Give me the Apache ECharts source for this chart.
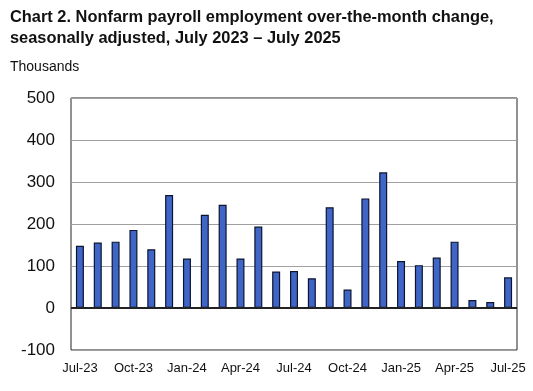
<!DOCTYPE html>
<html><head><meta charset="utf-8">
<script src="https://cdn.jsdelivr.net/npm/echarts@6/dist/echarts.min.js"></script>
<style>html,body{margin:0;padding:0;background:#fff}#c{width:533px;height:391px}</style>
</head><body><div id="c"></div>
<script>
const months = ["Jul-23","Aug-23","Sep-23","Oct-23","Nov-23","Dec-23","Jan-24","Feb-24","Mar-24","Apr-24","May-24","Jun-24","Jul-24","Aug-24","Sep-24","Oct-24","Nov-24","Dec-24","Jan-25","Feb-25","Mar-25","Apr-25","May-25","Jun-25","Jul-25"];
const changes = [148,156,158,186,140,269,118,222,246,118,194,87,88,71,240,44,261,323,112,102,120,158,19,14,73];
const yTicks = [-100,0,100,200,300,400,500];
const titleText = "Chart 2. Nonfarm payroll employment over-the-month change,\nseasonally adjusted, July 2023 \u2013 July 2025";
const unitText = "Thousands";

const chart = echarts.init(document.getElementById('c'));
const font = 'Liberation Sans, Arial, sans-serif';
chart.setOption({
  animation:false,
  backgroundColor:'#fff',
  title:[
    {text:titleText,left:5,top:2,textStyle:{fontFamily:font,fontSize:16.4,fontWeight:'bold',color:'#111',lineHeight:21}},
    {text:unitText,left:5,top:55,textStyle:{fontFamily:font,fontSize:14,fontWeight:'normal',color:'#111'}}
  ],
  grid:{left:71,right:16,top:98,bottom:41,show:true,borderColor:'#222',borderWidth:1,backgroundColor:'#fff'},
  xAxis:{type:'category',data:months,
    axisLine:{show:false},axisTick:{show:false},
    axisLabel:{interval:2,fontFamily:font,fontSize:13,color:'#111',margin:12}},
  yAxis:{type:'value',min:yTicks[0],max:yTicks[yTicks.length-1],interval:100,
    axisLine:{show:false},axisTick:{show:false},
    axisLabel:{fontFamily:font,fontSize:17,color:'#111',margin:16},
    splitLine:{lineStyle:{color:'#a0a0a0',width:1}}},
  series:[{type:'bar',data:changes,barWidth:8,
    itemStyle:{color:'#3f66c6',borderColor:'#0c1430',borderWidth:1.2},
    markLine:{silent:true,symbol:'none',label:{show:false},lineStyle:{color:'#222',width:2,type:'solid'},data:[{yAxis:0}]}
  }]
});
</script></body></html>
